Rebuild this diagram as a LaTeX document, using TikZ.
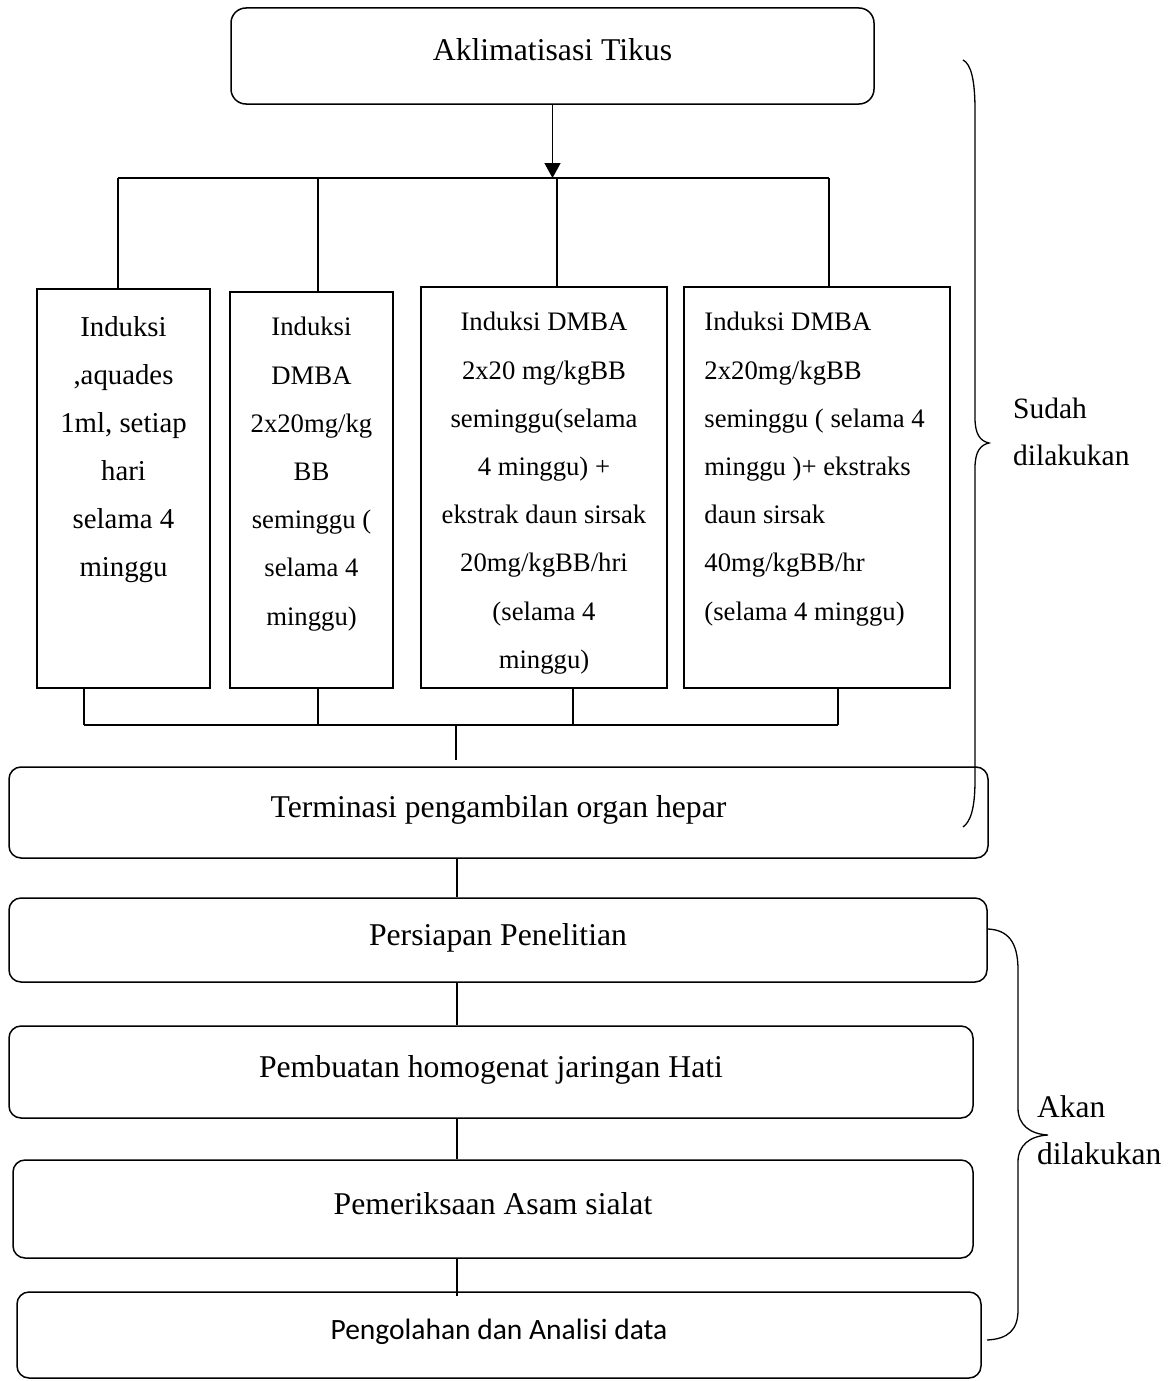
\documentclass[tikz,border=0pt]{standalone}
\usepackage{fontspec}
\setmainfont{Liberation Serif}
\newfontfamily\calibri{Carlito}
\usetikzlibrary{arrows.meta,positioning}

\begin{document}
\begin{tikzpicture}[
  x=1pt, y=-1pt,
  every node/.style={inner sep=0pt},
  wire/.style={line width=1.4pt},
  flow/.style={-{Triangle[length=15pt,width=16pt]}, line width=1.4pt},
  stage/.style={draw, rounded corners=12pt, line width=1.5pt,
                font=\fontsize{31.7}{38}\selectfont, text depth=12pt},
  group/.style={draw, line width=1.5pt},
  grouptext/.style={anchor=north, inner sep=0pt, yshift=-26pt, align=center,
                    font=\fontsize{26.7}{48.2}\selectfont},
  note/.style={anchor=base west, align=left},
  bracket/.style={line width=1.3pt},
]
\useasboundingbox (0,0) rectangle (1174,1381);

%% ---- Start ----
\node[stage, rounded corners=15pt, minimum width=643pt, minimum height=96pt]
  (akl) at (552.5,56) {Aklimatisasi Tikus};
\coordinate (busTop) at (552,178);

%% ---- Four treatment groups ----
\node[group, minimum width=173pt, minimum height=399pt] (g1) at (123.5,488.5) {};
\node[group, minimum width=163pt, minimum height=396pt] (g2) at (311.5,490) {};
\node[group, minimum width=246pt, minimum height=401pt] (g3) at (544,487.5) {};
\node[group, minimum width=266pt, minimum height=401pt] (g4) at (817,487.5) {};

\node[grouptext, yshift=-2pt, font=\fontsize{28.8}{48}\selectfont] (t1) at (g1.north)
  {Induksi\\,aquades\\1ml, setiap\\hari\\selama 4\\minggu};
\node[grouptext] (t2) at (g2.north)
  {Induksi\\DMBA\\2x20mg/kg\\BB\\seminggu (\\selama 4\\minggu)};
\node[grouptext] (t3) at (g3.north)
  {Induksi DMBA\\2x20 mg/kgBB\\seminggu(selama\\4 minggu) +\\ekstrak daun sirsak\\20mg/kgBB/hri\\(selama 4\\minggu)};
\node[grouptext, anchor=north west, align=left, xshift=21pt] (t4) at (g4.north west)
  {Induksi DMBA\\2x20mg/kgBB\\seminggu ( selama 4\\minggu )+ ekstraks\\daun sirsak\\40mg/kgBB/hr\\(selama 4 minggu)};

\draw[flow] (akl) -- (akl.south |- busTop);
\draw[wire] ([xshift=-5.5pt]g1.north |- busTop) -- ([xshift=12pt]g4.north |- busTop);
\foreach \n/\dx in {g1/-5.5, g2/6.5, g3/13, g4/12}
  \draw[wire] ([xshift=\dx pt]\n.north) -- ([xshift=\dx pt]\n.north |- busTop);

%% ---- Join into termination ----
\coordinate (busBot) at (456,725);
\node[stage, minimum width=979pt, minimum height=91pt] (term) at (498.5,812.5)
  {Terminasi pengambilan organ hepar};
\draw[wire] ([xshift=-39.5pt]g1.south |- busBot) -- ([xshift=21pt]g4.south |- busBot);
\foreach \n/\dx in {g1/-39.5, g2/6.5, g3/29, g4/21}
  \draw[wire] ([xshift=\dx pt]\n.south) -- ([xshift=\dx pt]\n.south |- busBot);
\draw[wire] (busBot) -- ([yshift=6pt]term.north -| busBot);

%% ---- Remaining steps ----
\coordinate (spine) at (457,0);
\node[stage, minimum width=978pt, minimum height=84pt] (prep) at (498,940)
  {Persiapan Penelitian};
\node[stage, minimum width=964pt, minimum height=92pt] (homo) at (491,1072)
  {Pembuatan homogenat jaringan Hati};
\node[stage, minimum width=960pt, minimum height=98pt] (sial) at (493,1209)
  {Pemeriksaan Asam sialat};
\node[stage, minimum width=964pt, minimum height=86pt, font=\calibri\fontsize{29.5}{36}\selectfont]
  (data) at (499,1335) {Pengolahan dan Analisi data};

\draw[wire] (term.south -| spine) -- (prep.north -| spine);
\draw[wire] (prep.south -| spine) -- (homo.north -| spine);
\draw[wire] (homo.south -| spine) -- (sial.north -| spine);
\draw[wire] (sial.south -| spine) -- ([yshift=-5pt]data.north -| spine);

%% ---- Braces and phase labels ----
\draw[bracket] (963,60) .. controls (971,64) and (975,80) .. (975,110)
  -- (975,418) .. controls (975,434) and (980,441) .. (989,443)
  .. controls (980,445) and (975,452) .. (975,468)
  -- (975,780) .. controls (975,810) and (970,822) .. (963,827);
\node[note, font=\fontsize{29.5}{47}\selectfont] (sudah) at (1013,465) {Sudah\\dilakukan};

\draw[bracket] (988,929) .. controls (1008,930) and (1018,942) .. (1018,970)
  -- (1018,1108) .. controls (1018,1125) and (1030,1134) .. (1048,1135)
  .. controls (1030,1136) and (1018,1145) .. (1018,1162)
  -- (1018,1310) .. controls (1018,1330) and (1008,1339) .. (987,1340);
\node[note, font=\fontsize{31.5}{47}\selectfont] (akan) at (1037,1164) {Akan\\dilakukan};

\end{tikzpicture}
\end{document}
